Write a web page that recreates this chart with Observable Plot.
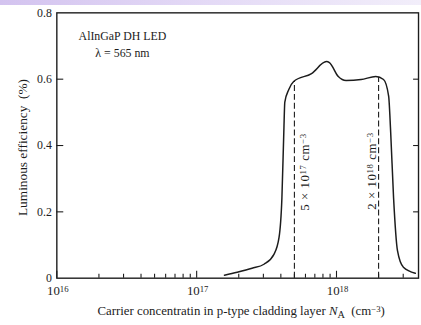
<!DOCTYPE html>
<html><head><meta charset="utf-8">
<script src="https://cdn.jsdelivr.net/npm/d3@7"></script>
<script src="https://cdn.jsdelivr.net/npm/@observablehq/plot@0.6"></script>
<style>
html,body{margin:0;padding:0;overflow:hidden;background:#fff;width:421px;height:325px}
#band{position:absolute;left:0;top:0;width:421px;height:5px;background:linear-gradient(to right,#d3c3ef,#e4daf6 50%,#f2eefa)}
#chart{position:absolute;left:0;top:0}
</style></head><body><div id="band"></div><div id="chart"></div>
<script>
// carrier concentration (cm^-3) and luminous efficiency (%)
const concentration = [1.58e17, 1.95e17, 2.49e17, 3.03e17, 3.57e17, 3.88e17, 4.07e17, 4.20e17, 4.27e17, 4.56e17, 4.94e17, 6.63e17, 8.47e17, 8.9e17, 1.03e18, 1.17e18, 1.5e18, 1.91e18, 2.17e18, 2.36e18, 2.44e18, 2.56e18, 2.73e18, 3.01e18, 3.66e18];
const efficiency    = [0.009, 0.018, 0.030, 0.042, 0.072, 0.122, 0.242, 0.441, 0.531, 0.569, 0.593, 0.617, 0.653, 0.650, 0.608, 0.596, 0.599, 0.608, 0.599, 0.549, 0.441, 0.242, 0.083, 0.033, 0.015];

const markerConcentration = [5e17, 2e18];
const markerEfficiency = [0.593, 0.606];
const markerLabels = ["5 × 10^{17} cm^{−3}", "2 × 10^{18} cm^{−3}"];
const markerLabelStart = [0.203, 0.206];

const decadeTicks = [1e16, 1e17, 1e18];
const decadeLabels = ["10^{16}", "10^{17}", "10^{18}"];
const minorTicks = [2e16, 3e16, 4e16, 5e16, 6e16, 7e16, 8e16, 9e16, 2e17, 3e17, 4e17, 5e17, 6e17, 7e17, 8e17, 9e17, 2e18, 3e18];
const yTicks = [0, 0.2, 0.4, 0.6, 0.8];
const yTickLabels = ["0", "0.2", "0.4", "0.6", "0.8"];
const yInnerTicks = [0.2, 0.4, 0.6];

const xTitle = "Carrier concentratin in p-type cladding layer *N*_{A}  (cm^{−3})";
const yTitle = "Luminous efficiency  (%)";
const note1 = "AlInGaP DH LED";
const note2 = "λ = 565 nm";

const curve = concentration.map((c, i) => ({c, e: efficiency[i]}));
const markers = markerConcentration.map((c, i) => ({c, e: markerEfficiency[i], label: markerLabels[i], start: markerLabelStart[i]}));
const ink = "#1c1c1c";
const font = "'Liberation Serif', 'Times New Roman', serif";

const plot = Plot.plot({
  width: 426, height: 325,
  marginLeft: 57, marginRight: 3, marginTop: 12.5, marginBottom: 44,
  style: {background: "transparent", fontFamily: font, color: ink, overflow: "visible"},
  x: {type: "log", domain: [1e16, 3.86e18]},
  y: {domain: [0, 0.8]},
  marks: [
    Plot.frame({stroke: ink, strokeWidth: 1.4}),
    Plot.axisX(minorTicks, {anchor: "bottom", tickSize: -4, tickFormat: () => "", stroke: ink, strokeWidth: 1.1, label: null}),
    Plot.axisX(decadeTicks, {anchor: "bottom", tickSize: -7, tickFormat: () => "", stroke: ink, strokeWidth: 1.1, label: null}),
    Plot.axisY(yInnerTicks, {anchor: "left", tickSize: -7, tickFormat: () => "", stroke: ink, strokeWidth: 1.1, label: null}),
    Plot.axisY(yInnerTicks, {anchor: "right", tickSize: -6, tickFormat: () => "", stroke: ink, strokeWidth: 1.1, label: null}),
    Plot.text(yTicks, {frameAnchor: "left", lineAnchor: "middle", y: d => d, text: (d, i) => yTickLabels[i], textAnchor: "end", dx: -5, fontSize: 12, fill: ink}),
    Plot.text(decadeTicks, {x: d => d, frameAnchor: "bottom", lineAnchor: "middle", textAnchor: "middle", text: (d, i) => decadeLabels[i], dx: 1, dy: 13, fontSize: 13, fill: ink}),
    Plot.text([xTitle], {frameAnchor: "bottom", lineAnchor: "middle", textAnchor: "middle", dx: 3.5, dy: 33, text: d => d, fontSize: 13, fill: ink}),
    Plot.text([yTitle], {frameAnchor: "left", lineAnchor: "middle", textAnchor: "middle", y: () => 0.394, rotate: -90, dx: -35, text: d => d, fontSize: 13.5, fill: ink}),
    Plot.text([note1], {frameAnchor: "top-left", lineAnchor: "middle", textAnchor: "start", dx: 22, dy: 23.7, text: d => d, fontSize: 12, fill: ink}),
    Plot.text([note2], {frameAnchor: "top-left", lineAnchor: "middle", textAnchor: "start", dx: 39, dy: 40.7, text: d => d, fontSize: 12, fill: ink}),
    Plot.ruleX(markers, {x: "c", y1: 0, y2: "e", stroke: ink, strokeWidth: 1.1, strokeDasharray: "6,3"}),
    Plot.line(curve, {x: "c", y: "e", curve: "monotone-x", stroke: ink, strokeWidth: 1.5}),
    Plot.text(markers, {x: "c", y: "start", text: "label", rotate: -90, lineAnchor: "middle", textAnchor: "start", dx: 11, fontSize: 13, fill: ink, filter: (d, i) => i === 0}),
    Plot.text(markers, {x: "c", y: "start", text: "label", rotate: -90, lineAnchor: "middle", textAnchor: "start", dx: -7, fontSize: 13, fill: ink, filter: (d, i) => i === 1})
  ]
});

// letter spacing for the rotated marker labels
d3.select(plot).selectAll("text").each(function() {
  if (markerLabels.includes(this.textContent)) this.style.letterSpacing = "0.6px";
});

// render ^{..} superscripts, _{..} subscripts and *..* italics as tspans
function richify(svg) {
  d3.select(svg).selectAll("text").each(function() {
    const t = this.textContent;
    if (!/[\^_*]/.test(t)) return;
    while (this.firstChild) this.removeChild(this.firstChild);
    const re = /\^\{([^}]*)\}|_\{([^}]*)\}|\*([^*]*)\*|([^\^_*]+)/g;
    let m;
    while ((m = re.exec(t))) {
      const ts = document.createElementNS("http://www.w3.org/2000/svg", "tspan");
      if (m[1] !== undefined) { ts.textContent = m[1]; ts.setAttribute("baseline-shift", "38%"); ts.setAttribute("font-size", "0.68em"); }
      else if (m[2] !== undefined) { ts.textContent = m[2]; ts.setAttribute("baseline-shift", "-28%"); ts.setAttribute("font-size", "0.8em"); }
      else if (m[3] !== undefined) { ts.textContent = m[3]; ts.setAttribute("font-style", "italic"); }
      else ts.textContent = m[4];
      this.appendChild(ts);
    }
  });
}
richify(plot);
document.getElementById("chart").appendChild(plot);
</script></body></html>
